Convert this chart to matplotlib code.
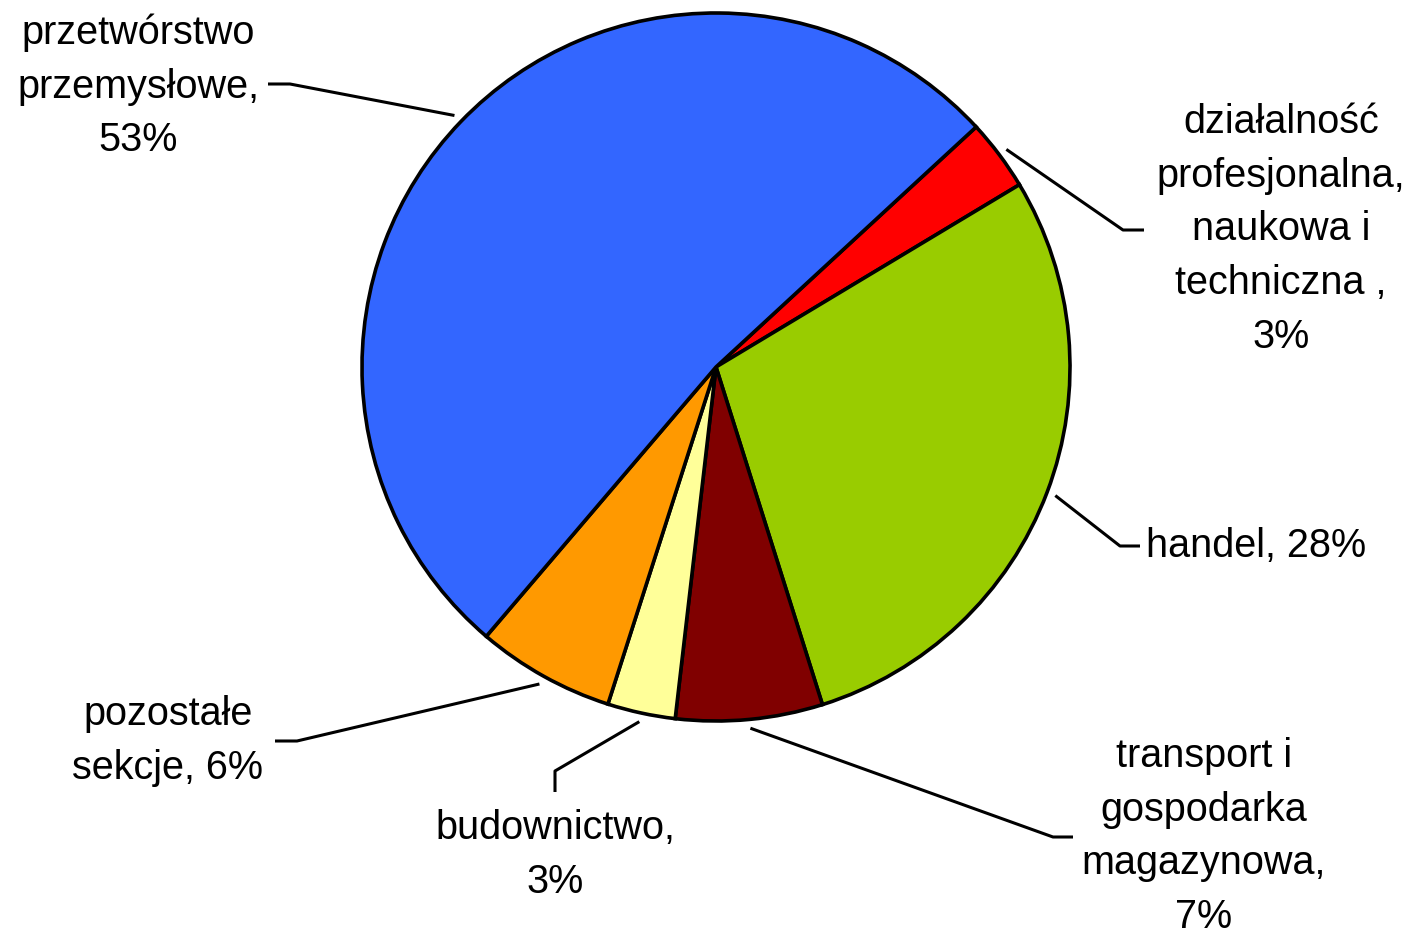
import matplotlib.pyplot as plt
import numpy as np

W, H = 1415, 933

# slices listed clockwise, starting from the red one
sections = ['działalność profesjonalna, naukowa i techniczna', 'handel',
            'transport i gospodarka magazynowa', 'budownictwo',
            'pozostałe sekcje', 'przetwórstwo przemysłowe']
shares = [3.25, 28.75, 6.7, 3.1, 6.3, 51.9]
label_lines = [
    ['działalność', 'profesjonalna,', 'naukowa i', 'techniczna ,', '3%'],
    ['handel, 28%'],
    ['transport i', 'gospodarka', 'magazynowa,', '7%'],
    ['budownictwo,', '3%'],
    ['pozostałe', 'sekcje, 6%'],
    ['przetwórstwo', 'przemysłowe,', '53%'],
]
colors = ['#FF0000', '#99CC00', '#800000', '#FFFF99', '#FF9900', '#3366FF']

# label layout in pixels (x, first baseline, align, elbow, end of leader)
layout = [
    (1281, 133, 'center', (1123, 230), (1144, 230)),
    (1146, 557, 'left', (1120, 546), (1140, 546)),
    (1204, 767, 'center', (1053, 837), (1073, 837)),
    (555, 839, 'center', (555, 771), (555, 792)),
    (168, 725, 'center', (297, 741), (275, 741)),
    (138, 44, 'center', (290, 84), (268, 84)),
]
step = 53.7  # line spacing in px

fig = plt.figure(figsize=(W / 100, H / 100), dpi=100)
ax = fig.add_axes([0, 0, 1, 1])

cx, cy, r = 716, 367, 354
wedges, _ = ax.pie(shares, colors=colors, startangle=90 - 47.3, counterclock=False,
                   center=(cx, H - cy), radius=r,
                   wedgeprops=dict(edgecolor='black', linewidth=2.6))
ax.set_xlim(0, W)
ax.set_ylim(0, H)
ax.axis('off')

for w, lines, (tx, by, ha, elbow, end) in zip(wedges, label_lines, layout):
    mid = np.deg2rad((w.theta1 + w.theta2) / 2)
    sx = cx + 1.025 * r * np.cos(mid)
    sy = (H - cy) + 1.025 * r * np.sin(mid)
    ax.plot([sx, elbow[0], end[0]], [sy, H - elbow[1], H - end[1]],
            color='black', lw=2.2, solid_capstyle='butt')
    for j, line in enumerate(lines):
        ax.text(tx, H - (by + j * step), line, ha=ha, va='baseline',
                fontsize=28.5, family='Liberation Sans', color='black')

fig.savefig('out.png', dpi=100)
